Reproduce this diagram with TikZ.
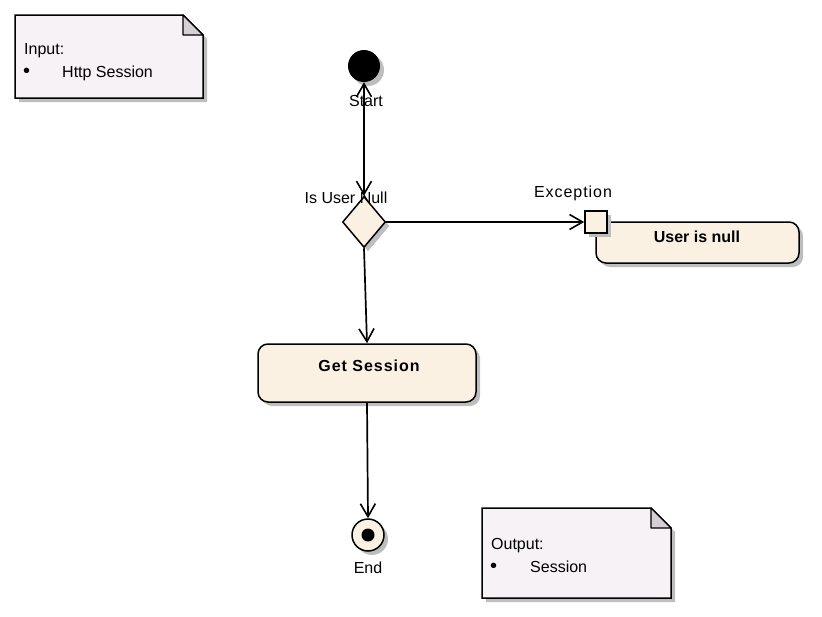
\documentclass[tikz,border=0pt]{standalone}
\usepackage{fontspec}
\setmainfont{Liberation Sans}
\usetikzlibrary{arrows.meta,shapes.geometric,shadows}
\definecolor{actfill}{HTML}{FBF1E3}
\definecolor{notefill}{HTML}{F6F2F6}
\definecolor{foldfill}{HTML}{D4D0D6}
\definecolor{shadcol}{HTML}{BEBEBE}
\tikzset{
  shad/.style={drop shadow={shadow xshift=4pt,shadow yshift=-4pt,fill=shadcol,opacity=1}},
  actbox/.style={draw,line width=1.5pt,fill=actfill,rounded corners=10pt,shad,inner sep=0pt},
  bold16/.style={font=\bfseries\fontsize{16}{19}\selectfont,inner sep=0pt},
  lbl/.style={font=\fontsize{16}{19}\selectfont,inner sep=0pt},
  notetxt/.style={font=\fontsize{16}{19}\selectfont,inner sep=0pt,anchor=base west},
  notebody/.style={fill=notefill,draw,line width=1.5pt},
  notefold/.style={fill=foldfill,draw,line width=1.2pt,line join=round},
  tip/.tip={Straight Barb[length=13pt,width=15pt,line width=1.6pt]},
  flow/.style={line width=1.7pt,-tip},
}
\begin{document}
\begin{tikzpicture}[x=1pt,y=-1pt]
\useasboundingbox (0,0) rectangle (822,616);
% Input note
\fill[shadcol] (19,19) -- (187,19) -- (207,39) -- (207,102) -- (19,102) -- cycle;
\path[notebody] (15,15) -- (183,15) -- (203,35) -- (203,98) -- (15,98) -- cycle;
\path[notefold] (183,15) -- (183,35) -- (203,35) -- cycle;
\node[notetxt] (in1) at (24,54) {Input:};
\node[notetxt] (in2) at (23,77) {\fontsize{20}{20}\selectfont\textbullet};
\node[notetxt] (in3) at (62,77) {Http Session};
% Output note
\fill[shadcol] (486,512) -- (655,512) -- (675,532) -- (675,602) -- (486,602) -- cycle;
\path[notebody] (482,508) -- (651,508) -- (671,528) -- (671,598) -- (482,598) -- cycle;
\path[notefold] (651,508) -- (651,528) -- (671,528) -- cycle;
\node[notetxt] (out1) at (491,549) {Output:};
\node[notetxt] (out2) at (490,572) {\fontsize{20}{20}\selectfont\textbullet};
\node[notetxt] (out3) at (530,572) {Session};
% Start
\node[circle,fill=black,minimum size=32pt,inner sep=0pt,shad] (st) at (364,66) {};
\node[lbl] (stl) at (366,101) {Start};
% Decision
\node[diamond,draw,line width=1.5pt,fill=actfill,minimum width=43pt,minimum height=51pt,inner sep=0pt,shad] (dec) at (364,222) {};
\node[lbl] (decl) at (346,198) {Is User Null};
% User is null action with exception pin
\node[actbox,minimum width=203pt,minimum height=41pt] (uin) at (697.5,242.5) {};
\node[bold16] (uinl) at (697,237) {User is null};
\node[draw,line width=1.7pt,fill=actfill,minimum size=22pt,inner sep=0pt,shad] (pin) at (596,222) {};
\node[lbl] (pinl) at (573,193) {\addfontfeature{LetterSpace=6}Exception};
% Get Session
\node[actbox,minimum width=218pt,minimum height=58pt] (gs) at (367,373) {};
\node[bold16] (gsl) at (369,366) {\addfontfeature{LetterSpace=6}Get Session};
% End
\node[circle,draw,line width=1.5pt,fill=actfill,minimum size=32pt,inner sep=0pt,shad] (en) at (368,535) {};
\node[circle,fill=black,minimum size=13pt,inner sep=0pt] (endot) at (en.center) {};
\node[lbl] (enl) at (368,568) {End};
% Flows
\draw[line width=1.7pt,tip-tip] (st.south) -- (dec.north);
\draw[flow] (dec.east) -- (pin.west);
\draw[flow] (dec.south) -- (gs.north);
\draw[flow] (gs.south) -- (en.north);
\end{tikzpicture}
\end{document}
